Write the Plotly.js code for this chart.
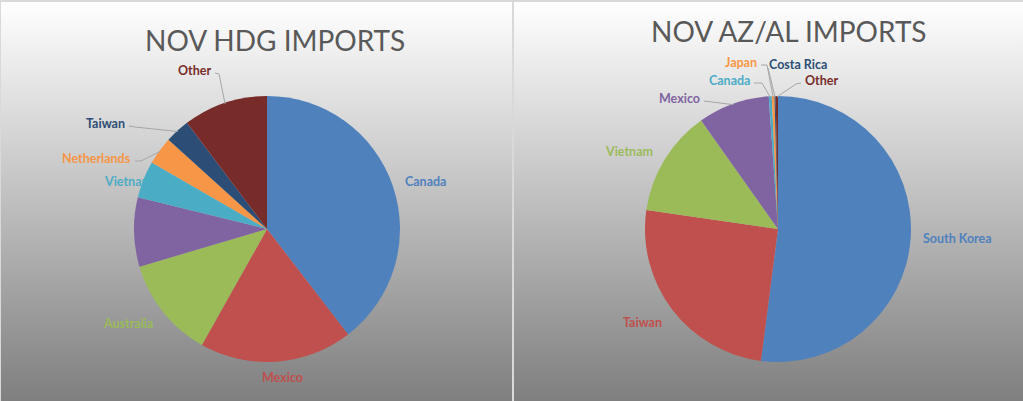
<!DOCTYPE html>
<html>
<head>
<meta charset="utf-8">
<script src="https://cdn.plot.ly/plotly-3.0.1.min.js"></script>
<style>
  html, body { margin: 0; padding: 0; width: 1023px; height: 401px; overflow: hidden; background: #d9d9d9; }
  .panel { position: absolute; top: 0; height: 401px; box-sizing: border-box;
           background: linear-gradient(to bottom, #ffffff 0%, #7f7f7f 100%);
           border-top: 2px solid #d9d9d9; }
  #pl { left: 0; width: 512px; border-left: 1px solid #d9d9d9; }
  #pr { left: 514px; width: 509px; }
  #chart { position: absolute; left: 0; top: 0; width: 1023px; height: 401px; }
</style>
</head>
<body>
<div class="panel" id="pl"></div>
<div class="panel" id="pr"></div>
<div id="chart"></div>
<script>
// ---- data ----
const hdgTitle = 'NOV HDG IMPORTS';
const hdgCountries = ['Canada', 'Mexico', 'Australia', '(unlabeled)', 'Vietnam', 'Netherlands', 'Taiwan', 'Other'];
const hdgShares = [39.6, 18.6, 12.3, 8.4, 4.5, 3.4, 3.0, 10.3];
const hdgShowLabel = [true, true, true, false, true, true, true, true];

const azTitle = 'NOV AZ/AL IMPORTS';
const azCountries = ['South Korea', 'Taiwan', 'Vietnam', 'Mexico', 'Canada', 'Japan', 'Costa Rica', 'Other'];
const azShares = [52.0, 25.2, 12.9, 8.7, 0.36, 0.33, 0.14, 0.28];
const azShowLabel = [true, true, true, true, true, true, true, true];

const palette = ['#4F81BD', '#C0504D', '#9BBB59', '#8064A2', '#4BACC6', '#F79646', '#2C4D75', '#772C2A'];

// ---- layout (pixel geometry, not data) ----
const W = 1023, H = 401;
const R = 133;
const pies = [
  { cx: 267, cy: 229 },
  { cx: 778, cy: 229 }
];
// label placement: [x, y, xanchor, leaderStart, elbow]
const hdgLabelPos = [
  [425, 182, 'center'],
  [282, 377, 'center'],
  [128, 323, 'center'],
  null,
  [102, 182, 'left'],
  [133, 158, 'right', [135, 161], [141, 161]],
  [127, 123, 'right', [129, 126], [135, 127]],
  [213, 71, 'right', [215, 73], [219, 74]]
];
const azLabelPos = [
  [957, 239, 'center'],
  [642, 322, 'center'],
  [629, 152, 'center'],
  [702, 98, 'right', [704, 101], [712, 102]],
  [752, 81, 'right', [754, 83], [762, 83]],
  [759, 63, 'right', [761, 65], [767, 65]],
  [767, 64, 'left', [768, 68], [768, 68]],
  [803, 81, 'left', [801, 83], [796, 84]]
];

function dom(p) {
  return { x: [(p.cx - R) / W, (p.cx + R) / W], y: [(H - p.cy - R) / H, (H - p.cy + R) / H] };
}
const px = x => x / W, py = y => 1 - y / H;

const traces = [hdgShares, azShares].map((vals, k) => ({
  type: 'pie', labels: k === 0 ? hdgCountries : azCountries, values: vals,
  sort: false, direction: 'clockwise', rotation: 0,
  marker: { colors: palette, line: { width: 0 } },
  textinfo: 'none', domain: dom(pies[k]), hoverinfo: 'label+percent', showlegend: false
}));

const annotations = [];
const shapes = [];
const labelFontBase = { family: 'Lato, "Open Sans", sans-serif', size: 12.5, weight: 'bold' };

function addLabels(names, vals, show, pos, pie) {
  const total = vals.reduce((a, b) => a + b, 0);
  let cum = 0;
  names.forEach((name, i) => {
    const start = cum; cum += vals[i];
    const mid = (start + vals[i] / 2) / total * 2 * Math.PI;
    const tip = [pie.cx + (R - 1) * Math.sin(mid), pie.cy - (R - 1) * Math.cos(mid)];
    const p = pos[i];
    if (!show[i] || !p) return;
    annotations.push({
      text: name, x: px(p[0]), y: py(p[1]), xref: 'paper', yref: 'paper',
      xanchor: p[2], yanchor: 'middle', showarrow: false,
      font: Object.assign({ color: palette[i] }, labelFontBase)
    });
    if (p[3]) {
      shapes.push({
        type: 'path', xref: 'paper', yref: 'paper',
        path: `M ${px(p[3][0])} ${py(p[3][1])} L ${px(p[4][0])} ${py(p[4][1])} L ${px(tip[0])} ${py(tip[1])}`,
        line: { color: '#a6a6a6', width: 1 }
      });
    }
  });
}
addLabels(hdgCountries, hdgShares, hdgShowLabel, hdgLabelPos, pies[0]);
addLabels(azCountries, azShares, azShowLabel, azLabelPos, pies[1]);

const titleFont = { family: 'Lato, "Open Sans", sans-serif', size: 28, color: '#595959' };
annotations.push(
  { text: hdgTitle, x: px(275), y: py(40), xref: 'paper', yref: 'paper', xanchor: 'center', yanchor: 'middle', showarrow: false, font: titleFont },
  { text: azTitle, x: px(789), y: py(31), xref: 'paper', yref: 'paper', xanchor: 'center', yanchor: 'middle', showarrow: false, font: titleFont }
);

const layout = {
  width: W, height: H,
  margin: { l: 0, r: 0, t: 0, b: 0 },
  paper_bgcolor: 'rgba(0,0,0,0)', plot_bgcolor: 'rgba(0,0,0,0)',
  showlegend: false,
  annotations: annotations,
  shapes: shapes
};

Plotly.newPlot('chart', traces, layout, { displayModeBar: false, staticPlot: true });
</script>
</body>
</html>
